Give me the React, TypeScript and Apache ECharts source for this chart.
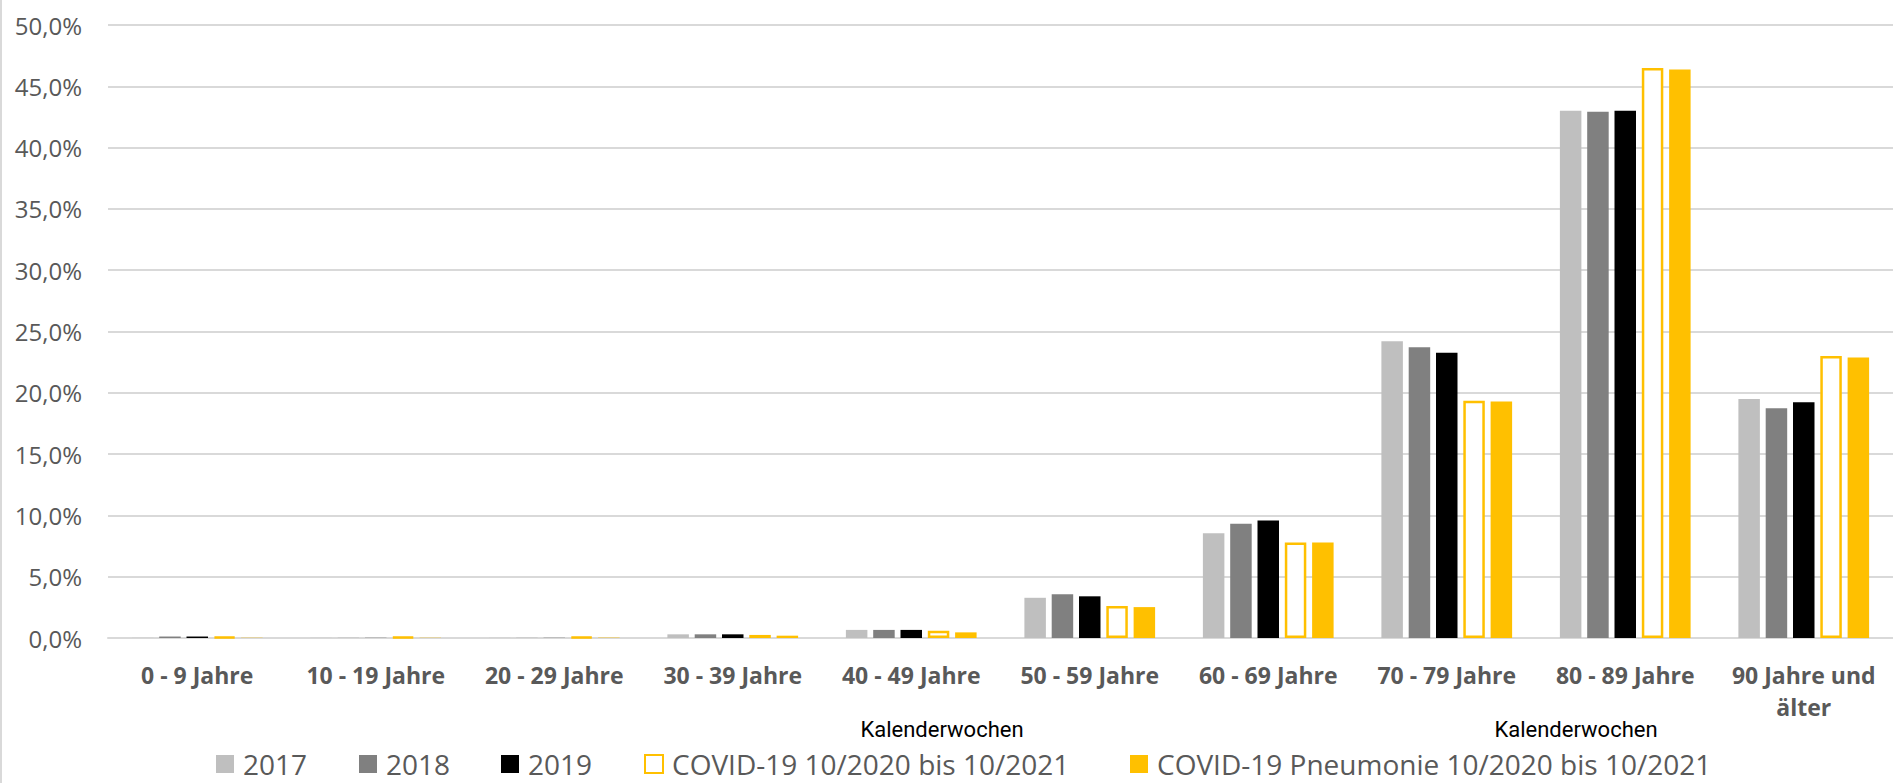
import React, { useEffect, useRef } from "react";
import * as echarts from "echarts";

const categories = [
  "0 - 9 Jahre",
  "10 - 19 Jahre",
  "20 - 29 Jahre",
  "30 - 39 Jahre",
  "40 - 49 Jahre",
  "50 - 59 Jahre",
  "60 - 69 Jahre",
  "70 - 79 Jahre",
  "80 - 89 Jahre",
  "90 Jahre und\nälter",
];

const values2017 = [0.01, 0.01, 0.01, 0.3, 0.66, 3.28, 8.55, 24.2, 43.0, 19.5];
const values2018 = [0.12, 0.01, 0.01, 0.3, 0.66, 3.56, 9.32, 23.72, 42.93, 18.73];
const values2019 = [0.12, 0.01, 0.01, 0.3, 0.66, 3.4, 9.59, 23.26, 43.0, 19.22];
const valuesCovid = [0.1, 0.08, 0.08, 0.25, 0.6, 2.62, 7.78, 19.35, 46.5, 23.0];
const valuesPneumonie = [0.03, 0.02, 0.03, 0.19, 0.46, 2.52, 7.78, 19.3, 46.37, 22.88];

const seriesNames = [
  "2017",
  "2018",
  "2019",
  "COVID-19 10/2020 bis 10/2021",
  "COVID-19 Pneumonie 10/2020 bis 10/2021",
];

const legendLefts = [216, 359, 501, 644, 1130];

const annotationText = "Kalenderwochen";

export default function App() {
  const ref = useRef<HTMLDivElement>(null);

  useEffect(() => {
    document.body.style.margin = "0";
    if (!ref.current) return;
    const chart = echarts.init(ref.current, null, { renderer: "svg" });
    const font = "'Open Sans', 'Noto Sans', sans-serif";
    const barW = 21.5;
    const gap = "27%";
    chart.setOption({
      animation: false,
      backgroundColor: "#ffffff",
      textStyle: { fontFamily: font },
      grid: { left: 108, top: 25, width: 1787, height: 613, containLabel: false },
      xAxis: {
        type: "category",
        data: categories,
        axisLine: { show: true, lineStyle: { color: "#d9d9d9", width: 2 } },
        axisTick: { show: false },
        axisLabel: {
          interval: 0,
          fontFamily: font,
          fontSize: 23,
          fontWeight: "bold",
          color: "#595959",
          margin: 21,
          lineHeight: 32,
        },
      },
      yAxis: {
        type: "value",
        min: 0,
        max: 50,
        interval: 5,
        axisLine: { show: false },
        axisTick: { show: false },
        splitLine: { lineStyle: { color: "#d9d9d9", width: 2 } },
        axisLabel: {
          fontFamily: font,
          fontSize: 24,
          color: "#595959",
          margin: 26,
          formatter: (v: number) => v.toFixed(1).replace(".", ",") + "%",
        },
      },
      legend: seriesNames.map((name, i) => ({
        left: legendLefts[i],
        top: 750,
        padding: 0,
        itemWidth: 18,
        itemHeight: 18,
        icon: "rect",
        textStyle: {
          fontFamily: font,
          fontSize: 28,
          lineHeight: 26,
          color: "#595959",
          padding: [0, 0, 0, 4],
        },
        data: [name],
      })),
      graphic: [
        {
          type: "rect",
          left: 0,
          top: 0,
          shape: { x: 0, y: 0, width: 2, height: 783 },
          style: { fill: "#d9d9d9" },
        },
        {
          type: "text",
          x: 942,
          y: 729,
          style: {
            text: annotationText,
            fontFamily: "Roboto, sans-serif",
            fontSize: 22,
            fill: "#000000",
            align: "center",
            verticalAlign: "middle",
          },
        },
        {
          type: "text",
          x: 1576,
          y: 729,
          style: {
            text: annotationText,
            fontFamily: "Roboto, sans-serif",
            fontSize: 22,
            fill: "#000000",
            align: "center",
            verticalAlign: "middle",
          },
        },
      ],
      series: [
        {
          name: seriesNames[0],
          type: "bar",
          data: values2017,
          barWidth: barW,
          barGap: gap,
          itemStyle: { color: "#bfbfbf" },
        },
        {
          name: seriesNames[1],
          type: "bar",
          data: values2018,
          barWidth: barW,
          barGap: gap,
          itemStyle: { color: "#808080" },
        },
        {
          name: seriesNames[2],
          type: "bar",
          data: values2019,
          barWidth: barW,
          barGap: gap,
          itemStyle: { color: "#000000" },
        },
        {
          name: seriesNames[3],
          type: "bar",
          data: valuesCovid,
          barWidth: barW,
          barGap: gap,
          itemStyle: { color: "#ffffff", borderColor: "#ffc000", borderWidth: 2.5 },
        },
        {
          name: seriesNames[4],
          type: "bar",
          data: valuesPneumonie,
          barWidth: barW,
          barGap: gap,
          itemStyle: { color: "#ffc000" },
        },
      ],
    });
    return () => chart.dispose();
  }, []);

  return <div ref={ref} style={{ width: 1893, height: 783 }} />;
}
